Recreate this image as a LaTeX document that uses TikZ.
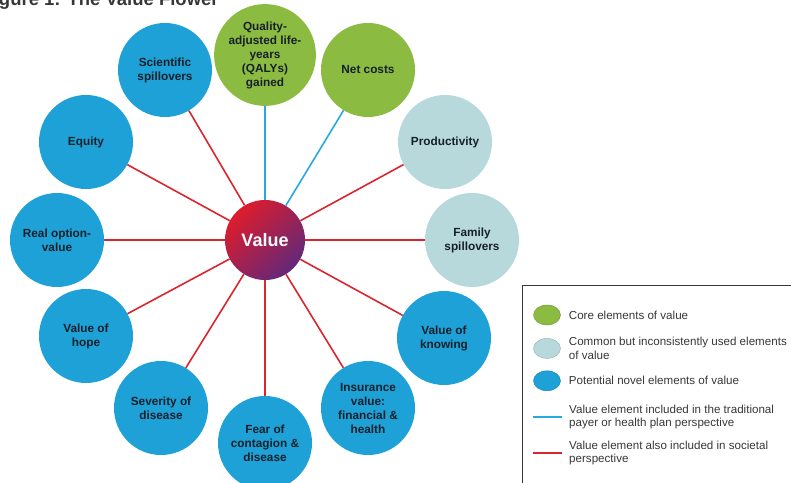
\documentclass[tikz,border=0pt]{standalone}
\usepackage{fontspec}
\setmainfont{Liberation Sans}
\usetikzlibrary{positioning}
\usetikzlibrary{shapes.geometric}

\definecolor{novelblue}{RGB}{30,161,215}
\definecolor{coregreen}{RGB}{140,187,66}
\definecolor{commonteal}{RGB}{183,217,220}
\definecolor{linkred}{RGB}{217,38,46}
\definecolor{linkblue}{RGB}{38,168,224}
\definecolor{valred}{RGB}{222,28,44}
\definecolor{valpurple}{RGB}{98,40,122}
\definecolor{petaltext}{RGB}{22,32,42}
\definecolor{keygray}{RGB}{55,55,55}

\begin{document}
\begin{tikzpicture}[x=1pt, y=1pt, node distance=13pt,
petal/.style={circle, minimum size=94pt, inner sep=1pt, align=center, font=\bfseries\fontsize{11.8}{14}\selectfont, text=petaltext},
core/.style={petal, fill=coregreen},
common/.style={petal, fill=commonteal},
novel/.style={petal, fill=novelblue},
payer/.style={linkblue, line width=1.6pt},
society/.style={linkred, line width=1.6pt},
swatch/.style={ellipse, minimum width=27pt, minimum height=20pt, inner sep=0pt, fill=#1, draw=#1!80!black, line width=0.4pt},
keytext/.style={align=left, inner sep=0pt, font=\fontsize{11.6}{13.8}\selectfont, text=keygray}
]
\useasboundingbox (0,0) rectangle (791,482);

%create nodes
\node[anchor=base west, font=\bfseries\fontsize{18.5}{20}\selectfont, text=keygray] (title) at (-21,476) {Figure 1: The Value Flower};

\node[circle, minimum size=80pt, inner sep=0pt, top color=valred, bottom color=valpurple, shading angle=45, text=white, font=\bfseries\fontsize{18}{20}\selectfont] (val) at (265,242) {Value};

\node[core] (qaly) at (265,427) {Quality-\\adjusted life-\\years\\(QALYs)\\gained};
\node[core] (cost) at (368,412) {Net costs};
\node[common] (prod) at (445,340) {Productivity};
\node[common] (fam) at (472,242) {Family\\spillovers};
\node[novel] (know) at (444,144) {Value of\\knowing};
\node[novel] (ins) at (368,74) {Insurance\\value:\\financial \&\\health};
\node[novel] (fear) at (265,39) {Fear of\\contagion \&\\disease};
\node[novel] (sev) at (161,74) {Severity of\\disease};
\node[novel] (hope) at (86,146) {Value of\\hope};
\node[novel] (opt) at (57,242) {Real option-\\value};
\node[novel] (eq) at (86,340) {Equity};
\node[novel] (sci) at (165,412) {Scientific\\spillovers};

%legend
\coordinate (boxnw) at (522,197);
\coordinate (boxse) at (830,-20);
\draw[keygray, line width=0.8pt] (boxnw) rectangle (boxse);

\node[swatch=coregreen] (k1) at (547,167) {};
\node[swatch=commonteal, below=13pt of k1] (k2) {};
\node[swatch=novelblue, below=12pt of k2] (k3) {};
\node[keytext, anchor=west, right=8pt of k1] (t1) {Core elements of value};
\node[keytext, anchor=west, right=8pt of k2] (t2) {Common but inconsistently used elements\\of value};
\node[keytext, anchor=west, right=8pt of k3] (t3) {Potential novel elements of value};

\coordinate (k4a) at (533,65);
\coordinate (k4b) at (562,65);
\coordinate (k5a) at (533,29);
\coordinate (k5b) at (562,29);
\node[keytext, anchor=west] (t4) at (569,65) {Value element included in the traditional\\payer or health plan perspective};
\node[keytext, anchor=west] (t5) at (569,29) {Value element also included in societal\\perspective};

%draw paths
\draw[payer] (val) -- (qaly);
\draw[payer] (val) -- (cost);
\draw[society] (val) -- (prod);
\draw[society] (val) -- (fam);
\draw[society] (val) -- (know);
\draw[society] (val) -- (ins);
\draw[society] (val) -- (fear);
\draw[society] (val) -- (sev);
\draw[society] (val) -- (hope);
\draw[society] (val) -- (opt);
\draw[society] (val) -- (eq);
\draw[society] (val) -- (sci);

\draw[payer] (k4a) -- (k4b);
\draw[society] (k5a) -- (k5b);

\end{tikzpicture}
\end{document}
